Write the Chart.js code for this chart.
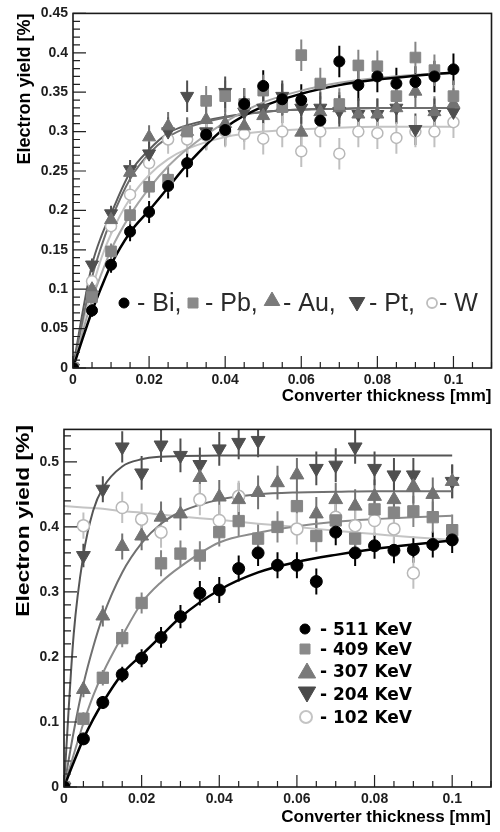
<!DOCTYPE html>
<html><head><meta charset="utf-8">
<script src="https://cdn.jsdelivr.net/npm/chart.js@4/dist/chart.umd.min.js"></script>
<style>
html,body{margin:0;padding:0;background:#fff;}
#wrap{width:500px;height:832px;position:relative;overflow:hidden;}
.box{position:absolute;left:0;width:500px;height:416px;}
canvas{display:block;}
</style></head><body>
<div id="wrap">
<div class="box" style="top:0"><canvas id="c1" width="500" height="416"></canvas></div>
<div class="box" style="top:416px"><canvas id="c2" width="500" height="416"></canvas></div>
</div>
<script>
// ---------- DATA ----------
const thickness = [0,0.005,0.01,0.015,0.02,0.025,0.03,0.035,0.04,0.045,0.05,0.055,0.06,0.065,0.07,0.075,0.08,0.085,0.09,0.095,0.1];
const fitThickness = [0,0.0025,0.005,0.0075,0.01,0.015,0.02,0.025,0.03,0.04,0.05,0.06,0.07,0.08,0.09,0.1];

// Top panel: converter materials
const materialNames = ['Bi','Pb','Au','Pt','W'];
const yieldBi = [0,0.073,0.131,0.173,0.198,0.231,0.260,0.296,0.302,0.335,0.358,0.341,0.340,0.314,0.389,0.359,0.370,0.361,0.363,0.370,0.379];
const yieldPb = [0,0.090,0.148,0.194,0.230,0.239,0.300,0.339,0.345,0.335,0.352,0.331,0.397,0.361,0.335,0.384,0.383,0.345,0.394,0.378,0.345];
const yieldAu = [0,0.100,0.188,0.248,0.293,0.307,0.300,0.315,0.310,0.307,0.320,0.331,0.299,0.325,0.330,0.322,0.322,0.330,0.351,0.325,0.335];
const yieldPt = [0,0.131,0.196,0.252,0.272,0.300,0.345,0.300,0.350,0.325,0.330,0.345,0.330,0.330,0.326,0.322,0.322,0.330,0.303,0.322,0.325];
const yieldW  = [0,0.110,0.180,0.220,0.260,0.290,0.290,0.295,0.300,0.297,0.291,0.300,0.275,0.300,0.272,0.300,0.298,0.292,0.300,0.300,0.312];
const errBi = [0.005,0.008,0.010,0.012,0.014,0.016,0.018,0.019,0.020,0.020,0.020,0.020,0.020,0.020,0.020,0.020,0.020,0.020,0.020,0.020,0.020];
const errPb = [0.005,0.008,0.010,0.012,0.014,0.016,0.018,0.019,0.020,0.020,0.020,0.020,0.020,0.020,0.020,0.020,0.020,0.020,0.020,0.020,0.020];
const errAu = [0.005,0.008,0.010,0.012,0.015,0.018,0.018,0.019,0.020,0.020,0.020,0.020,0.020,0.020,0.020,0.020,0.020,0.020,0.020,0.020,0.020];
const errPt = [0.005,0.008,0.010,0.012,0.015,0.018,0.020,0.019,0.020,0.020,0.020,0.020,0.020,0.020,0.020,0.020,0.020,0.020,0.020,0.020,0.020];
const errW  = [0.005,0.008,0.010,0.012,0.015,0.018,0.018,0.019,0.020,0.020,0.020,0.020,0.020,0.020,0.020,0.020,0.020,0.020,0.020,0.020,0.020];
const fitBi = [0,0.037,0.072,0.103,0.131,0.172,0.200,0.229,0.258,0.305,0.332,0.348,0.359,0.366,0.371,0.375];
const fitPb = [0,0.045,0.087,0.120,0.150,0.194,0.228,0.256,0.278,0.312,0.337,0.352,0.362,0.368,0.372,0.374];
const fitAu = [0,0.060,0.115,0.155,0.188,0.240,0.272,0.293,0.305,0.318,0.325,0.328,0.329,0.330,0.330,0.330];
const fitPt = [0,0.070,0.131,0.168,0.196,0.248,0.277,0.298,0.308,0.319,0.325,0.328,0.329,0.330,0.330,0.330];
const fitW  = [0,0.055,0.100,0.140,0.170,0.215,0.245,0.265,0.278,0.293,0.300,0.303,0.305,0.306,0.306,0.306];
const topLegendLabels = ['- Bi,','- Pb,','- Au,','- Pt,','- W'];

// Bottom panel: photon energies
const energyNames = ['511 KeV','409 KeV','307 KeV','204 KeV','102 KeV'];
const yield511 = [0,0.074,0.130,0.173,0.198,0.230,0.262,0.298,0.303,0.336,0.360,0.341,0.341,0.316,0.392,0.360,0.371,0.364,0.365,0.373,0.380];
const yield409 = [0,0.105,0.168,0.229,0.283,0.344,0.359,0.356,0.392,0.409,0.382,0.400,0.432,0.386,0.410,0.382,0.427,0.422,0.424,0.415,0.395];
const yield307 = [0,0.150,0.263,0.370,0.386,0.415,0.420,0.476,0.446,0.442,0.453,0.468,0.480,0.420,0.442,0.432,0.447,0.442,0.462,0.450,0.470];
const yield204 = [0,0.356,0.458,0.523,0.483,0.526,0.510,0.496,0.520,0.530,0.533,null,null,0.490,0.495,0.523,0.490,0.480,0.480,null,0.470];
const yield102 = [null,0.402,null,0.430,0.412,0.392,null,0.442,0.410,0.447,null,null,0.397,null,0.415,0.402,0.410,0.397,0.329,null,null];
const err511 = [0.005,0.008,0.010,0.012,0.014,0.016,0.018,0.019,0.020,0.020,0.020,0.020,0.020,0.020,0.020,0.020,0.020,0.020,0.020,0.020,0.020];
const err409 = [0.005,0.010,0.012,0.014,0.016,0.020,0.020,0.022,0.022,0.024,0.024,0.024,0.024,0.024,0.024,0.024,0.024,0.024,0.024,0.024,0.024];
const err307 = [0.005,0.012,0.016,0.020,0.022,0.024,0.025,0.026,0.026,0.026,0.026,0.026,0.026,0.026,0.026,0.026,0.026,0.026,0.026,0.026,0.026];
const err204 = [0.005,0.018,0.020,0.024,0.026,0.026,0.026,0.026,0.026,0.026,0.026,0.026,0.026,0.026,0.026,0.026,0.026,0.026,0.026,0.026,0.026];
const err102 = [0.005,0.020,0.022,0.024,0.024,0.024,0.024,0.024,0.024,0.024,0.024,0.024,0.024,0.024,0.024,0.024,0.024,0.024,0.024,0.024,0.024];
const fit511 = [0,0.038,0.074,0.104,0.130,0.174,0.203,0.232,0.261,0.303,0.330,0.346,0.357,0.366,0.373,0.379];
const fit409 = [0,0.050,0.098,0.140,0.175,0.232,0.283,0.315,0.339,0.376,0.391,0.401,0.408,0.412,0.415,0.417];
const fit307 = [0,0.085,0.158,0.215,0.262,0.330,0.375,0.405,0.423,0.442,0.450,0.453,0.454,0.455,0.455,0.455];
const fit204 = [0,0.235,0.357,0.425,0.460,0.493,0.504,0.508,0.509,0.510,0.510,0.510,0.510,0.510,0.510,0.510];
const fit102 = [0.432,0.431,0.430,0.429,0.428,0.424,0.422,0.419,0.416,0.411,0.405,0.400,0.394,0.389,0.384,0.380];
const bottomLegendLabels = energyNames.map(n => '- ' + n);

// ---------- STYLES ----------
const topStyles = [
  {shape:'circle', r:5.5, rot:0, fill:'#000000', stroke:'#000000', lw:1, fit:'#000000', fitW:2.5, err:'#000000'},
  {shape:'rect', r:7.5, rot:0, fill:'#858585', stroke:'#858585', lw:1, fit:'#a5a5a5', fitW:2, err:'#858585'},
  {shape:'triangle', r:7.5, rot:0, fill:'#727272', stroke:'#727272', lw:1, fit:'#6e6e6e', fitW:2, err:'#727272'},
  {shape:'triangle', r:7.5, rot:180, fill:'#4f4f4f', stroke:'#4f4f4f', lw:1, fit:'#5c5c5c', fitW:2, err:'#4f4f4f'},
  {shape:'circle', r:5.5, rot:0, fill:'#ffffff', stroke:'#b8b8b8', lw:1.5, fit:'#c4c4c4', fitW:2, err:'#c0c0c0'}
];
const bottomStyles = [
  {shape:'circle', r:6, rot:0, fill:'#000000', stroke:'#000000', lw:1, fit:'#000000', fitW:2.5, err:'#000000'},
  {shape:'rect', r:8, rot:0, fill:'#858585', stroke:'#858585', lw:1, fit:'#8c8c8c', fitW:2, err:'#858585'},
  {shape:'triangle', r:8, rot:0, fill:'#727272', stroke:'#727272', lw:1, fit:'#707070', fitW:2, err:'#727272'},
  {shape:'triangle', r:8, rot:180, fill:'#4f4f4f', stroke:'#4f4f4f', lw:1, fit:'#555555', fitW:2, err:'#4f4f4f'},
  {shape:'circle', r:6, rot:0, fill:'#ffffff', stroke:'#b8b8b8', lw:1.5, fit:'#c4c4c4', fitW:2, err:'#c0c0c0'}
];

function fmt(v){ return String(Number(v.toFixed(3))); }

function drawMarker(ctx, st, x, y, r){
  ctx.save();
  ctx.fillStyle = st.fill; ctx.strokeStyle = st.stroke; ctx.lineWidth = st.lw;
  ctx.beginPath();
  if (st.shape === 'circle') { ctx.arc(x, y, r, 0, Math.PI*2); }
  else if (st.shape === 'rect') { ctx.rect(x - r, y - r, 2*r, 2*r); }
  else {
    const dir = st.rot === 180 ? 1 : -1;
    const h = r * 1.5, w = r * 1.732 / 2;
    ctx.moveTo(x, y + dir * r);
    ctx.lineTo(x - w, y - dir * r/2);
    ctx.lineTo(x + w, y - dir * r/2);
    ctx.closePath();
  }
  ctx.fill(); ctx.stroke();
  ctx.restore();
}

// ---------- PLUGINS ----------
const errorBars = {
  id: 'errorBars',
  beforeDatasetsDraw(chart) {
    const {ctx, chartArea:a, scales:{x, y}} = chart;
    ctx.save();
    ctx.beginPath(); ctx.rect(a.left, a.top, a.right - a.left, a.bottom - a.top); ctx.clip();
    chart.data.datasets.forEach(ds => {
      if (!ds.errColor) return;
      ctx.strokeStyle = ds.errColor; ctx.lineWidth = 2;
      ds.data.forEach(p => {
        const px = x.getPixelForValue(p.x);
        ctx.beginPath();
        ctx.moveTo(px, y.getPixelForValue(p.y - p.e));
        ctx.lineTo(px, y.getPixelForValue(p.y + p.e));
        ctx.stroke();
      });
    });
    ctx.restore();
  }
};

const frameTicks = {
  id: 'frameTicks',
  afterDraw(chart, args, o) {
    const {ctx, chartArea:a, scales:{x, y}} = chart;
    ctx.save();
    ctx.strokeStyle = '#222'; ctx.lineWidth = 1.2;
    ctx.beginPath();
    for (let k = 0; ; k++) {
      const v = k * o.xMinor; if (v > x.max + 1e-9) break;
      const px = x.getPixelForValue(v);
      ctx.moveTo(px, a.bottom); ctx.lineTo(px, a.bottom - (k % o.xEvery === 0 ? o.xMajorLen : o.xMinorLen));
    }
    for (let k = 0; ; k++) {
      const v = k * o.yMinor; if (v > y.max + 1e-9) break;
      const py = y.getPixelForValue(v);
      ctx.moveTo(a.left, py); ctx.lineTo(a.left + (k % o.yEvery === 0 ? o.yMajorLen : o.yMinorLen), py);
    }
    ctx.stroke();
    ctx.lineWidth = 1.6; ctx.strokeStyle = '#1a1a1a';
    ctx.strokeRect(a.left, a.top, a.right - a.left, a.bottom - a.top);
    ctx.restore();
  }
};

const markerLegend = {
  id: 'markerLegend',
  afterDraw(chart, args, o) {
    const ctx = chart.ctx;
    ctx.save();
    o.labels.forEach((t, i) => {
      drawMarker(ctx, o.styles[i], o.markerX[i], o.markerY[i], o.markerR[i]);
      ctx.font = o.font; ctx.fillStyle = o.color; ctx.textAlign = 'left'; ctx.textBaseline = 'alphabetic';
      ctx.fillText(t, o.textX[i], o.textY[i]);
    });
    ctx.restore();
  }
};

const stretchedYTitle = {
  id: 'stretchedYTitle',
  afterDraw(chart, args, o) {
    if (!o.text) return;
    const ctx = chart.ctx;
    ctx.save();
    ctx.translate(o.x, o.y);
    ctx.rotate(-Math.PI/2);
    ctx.scale(o.stretch, 1);
    ctx.font = o.font; ctx.fillStyle = '#000'; ctx.textAlign = 'right'; ctx.textBaseline = 'middle';
    ctx.fillText(o.text, 0, 0);
    ctx.restore();
  }
};

// ---------- BUILD ----------
function buildDatasets(names, ys, errs, fits, styles) {
  const pts = [], lines = [];
  names.forEach((n, i) => {
    const st = styles[i];
    const data = [];
    thickness.forEach((x, k) => { if (ys[i][k] !== null) data.push({x: x, y: ys[i][k], e: errs[i][k]}); });
    pts.push({
      type: 'scatter', label: n, data: data, order: 1, errColor: st.err,
      pointStyle: st.shape, pointRotation: st.rot, pointRadius: st.r, pointHoverRadius: st.r,
      pointBackgroundColor: st.fill, pointBorderColor: st.stroke, pointBorderWidth: st.lw, showLine: false
    });
    lines.push({
      type: 'line', label: n + ' fit', order: 2,
      data: fitThickness.map((x, k) => ({x: x, y: fits[i][k]})),
      borderColor: st.fit, borderWidth: st.fitW, pointRadius: 0, fill: false,
      cubicInterpolationMode: 'monotone'
    });
  });
  return pts.concat(lines);
}

const tickFont = {family: 'Liberation Sans', weight: 'bold', size: 14};

function makeOptions(p) {
  return {
    responsive: false, animation: false, devicePixelRatio: 1,
    layout: {padding: {top: p.padTop, right: p.padRight, left: 0, bottom: 0}},
    plugins: {
      legend: {display: false}, tooltip: {enabled: false},
      frameTicks: p.ticks, markerLegend: p.legend, stretchedYTitle: p.stretch || {}
    },
    scales: {
      x: {
        type: 'linear', min: 0, max: 0.11,
        afterFit(s) { s.height = p.xHeight; },
        grid: {display: false, drawTicks: false}, border: {display: false},
        ticks: {stepSize: 0.02, includeBounds: false, padding: 4, color: '#1e1e1e', font: tickFont,
                maxRotation: 0, autoSkip: false, callback: v => fmt(v)},
        title: {display: true, text: 'Converter thickness [mm]', align: 'end', color: '#000',
                font: {family: 'Liberation Sans', weight: 'bold', size: 17}, padding: {top: 0, bottom: p.xTitlePad}}
      },
      y: {
        type: 'linear', min: 0, max: p.yMax,
        afterFit(s) { s.width = p.yWidth; },
        grid: {display: false, drawTicks: false}, border: {display: false},
        ticks: {stepSize: p.yStep, includeBounds: false, padding: 5, color: '#1e1e1e', font: tickFont,
                autoSkip: false, callback: v => fmt(v)},
        title: {display: p.yTitleShow, text: 'Electron yield [%]', align: 'end', color: '#000',
                font: {family: 'Liberation Sans', weight: 'bold', size: 18}, padding: {top: 14, bottom: 0}}
      }
    }
  };
}

new Chart(document.getElementById('c1'), {
  type: 'scatter',
  data: {datasets: buildDatasets(materialNames,
    [yieldBi, yieldPb, yieldAu, yieldPt, yieldW],
    [errBi, errPb, errAu, errPt, errW],
    [fitBi, fitPb, fitAu, fitPt, fitW], topStyles)},
  options: makeOptions({
    padTop: 8, padRight: 5, xHeight: 48, yWidth: 73, yMax: 0.45, yStep: 0.05, xTitlePad: 9, yTitleShow: true,
    ticks: {xMinor: 0.005, xEvery: 4, xMajorLen: 12, xMinorLen: 6, yMinor: 0.01, yEvery: 5, yMajorLen: 13, yMinorLen: 7},
    legend: {
      labels: topLegendLabels,
      styles: [
        {shape:'circle', rot:0, fill:'#000', stroke:'#000', lw:1},
        {shape:'rect', rot:0, fill:'#8a8a8a', stroke:'#8a8a8a', lw:1},
        {shape:'triangle', rot:0, fill:'#7a7a7a', stroke:'#7a7a7a', lw:1},
        {shape:'triangle', rot:180, fill:'#4a4a4a', stroke:'#4a4a4a', lw:1},
        {shape:'circle', rot:0, fill:'#fff', stroke:'#bdbdbd', lw:1.8}
      ],
      markerX: [124, 193, 272, 357, 432], markerY: [303, 303, 301, 302, 303], markerR: [5, 5, 9, 9, 5],
      textX: [137, 205, 283, 369, 439], textY: [311, 311, 311, 311, 311],
      font: '25px "Liberation Sans"', color: '#2a2a2a'
    }
  }),
  plugins: [errorBars, frameTicks, markerLegend]
});

new Chart(document.getElementById('c2'), {
  type: 'scatter',
  data: {datasets: buildDatasets(energyNames,
    [yield511, yield409, yield307, yield204, yield102],
    [err511, err409, err307, err204, err102],
    [fit511, fit409, fit307, fit204, fit102], bottomStyles)},
  options: makeOptions({
    padTop: 7, padRight: 3, xHeight: 45, yWidth: 64, yMax: 0.55, yStep: 0.1, xTitlePad: 4, yTitleShow: false,
    ticks: {xMinor: 0.005, xEvery: 4, xMajorLen: 12, xMinorLen: 6, yMinor: 0.02, yEvery: 5, yMajorLen: 13, yMinorLen: 7},
    stretch: {text: 'Electron yield [%]', x: 24, y: 9, stretch: 1.27, font: 'bold 18px "Liberation Sans"'},
    legend: {
      labels: bottomLegendLabels,
      styles: [
        {shape:'circle', rot:0, fill:'#000', stroke:'#000', lw:1},
        {shape:'rect', rot:0, fill:'#8a8a8a', stroke:'#8a8a8a', lw:1},
        {shape:'triangle', rot:0, fill:'#7a7a7a', stroke:'#7a7a7a', lw:1},
        {shape:'triangle', rot:180, fill:'#4a4a4a', stroke:'#4a4a4a', lw:1},
        {shape:'circle', rot:0, fill:'#fff', stroke:'#c4c4c4', lw:2}
      ],
      markerX: [305, 305, 307, 307, 306], markerY: [213, 233, 257, 276, 301], markerR: [5, 5, 10, 10, 6],
      textX: [320, 320, 320, 320, 320], textY: [219, 239, 261, 284, 307],
      font: 'bold 17px "DejaVu Sans"', color: '#000'
    }
  }),
  plugins: [errorBars, frameTicks, markerLegend, stretchedYTitle]
});
</script>
</body></html>
